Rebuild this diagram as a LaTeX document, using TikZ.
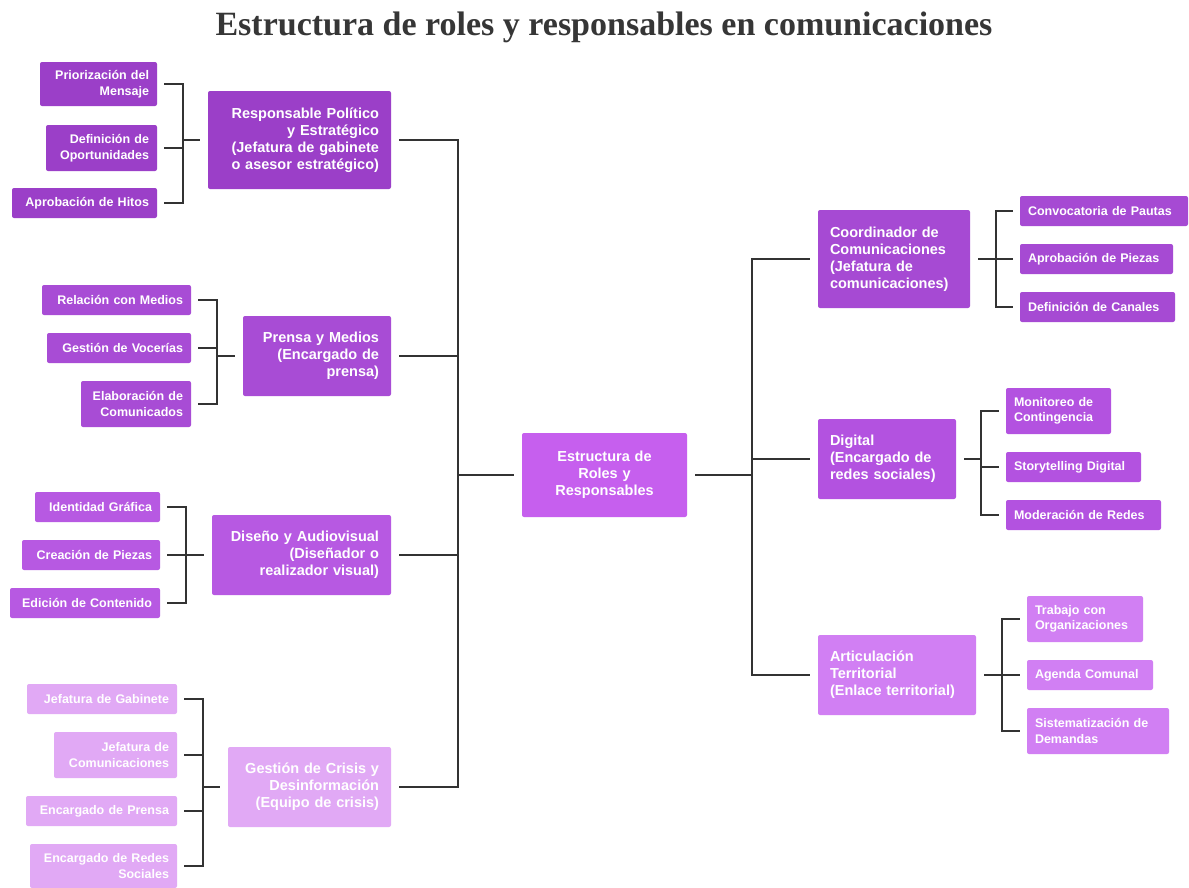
\documentclass[tikz,border=0pt]{standalone}
\usepackage{fontspec}
\setmainfont{Liberation Sans}
\newfontfamily\titlefont{Liberation Serif}
\definecolor{cA}{HTML}{9B3FC8}
\definecolor{cB}{HTML}{A84CD5}
\definecolor{cC}{HTML}{B759E2}
\definecolor{cD}{HTML}{E1A9F5}
\definecolor{cE}{HTML}{A64AD3}
\definecolor{cF}{HTML}{B352E0}
\definecolor{cG}{HTML}{D17FF3}
\definecolor{cCenter}{HTML}{C65FEE}
\definecolor{linegray}{HTML}{333333}
\definecolor{titlegray}{HTML}{363636}
\begin{document}
\begin{tikzpicture}[x=1pt,y=1pt,
  box/.style={rounded corners=2pt, text=white, inner ysep=2pt},
  leaf/.style={box, inner xsep=8pt, font=\fontsize{12.5}{15.5}\selectfont\bfseries},
  parent/.style={box, inner xsep=12pt, font=\fontsize{14.5}{17}\selectfont\bfseries},
  conn/.style={draw=linegray, line width=2pt}
]
\useasboundingbox[fill=white] (0,0) rectangle (1189,-887);

\node[font=\titlefont\fontsize{34}{40}\selectfont\bfseries, text=titlegray, anchor=base] (title) at (604,-35) {Estructura de roles y responsables en comunicaciones};

% center
\node[parent, fill=cCenter, text width=141pt, minimum height=84pt, align=center] (center) at (604.5,-475) {Estructura de\\Roles y\\Responsables};

% left group 1
\node[leaf, fill=cA, text width=101pt, minimum height=44pt, align=right] (l11) at (98.5,-84) {Priorización del\\Mensaje};
\node[leaf, fill=cA, text width=95pt, minimum height=46pt, align=right] (l12) at (101.5,-148) {Definición de\\Oportunidades};
\node[leaf, fill=cA, text width=129pt, minimum height=30pt, align=right] (l13) at (84.5,-203) {Aprobación de Hitos};
\node[parent, fill=cA, text width=159pt, minimum height=98pt, align=right] (p1) at (299.5,-140) {Responsable Político\\y Estratégico\\(Jefatura de gabinete\\o asesor estratégico)};

% left group 2
\node[leaf, fill=cB, text width=133pt, minimum height=30pt, align=right] (l21) at (116.5,-300) {Relación con Medios};
\node[leaf, fill=cB, text width=128pt, minimum height=30pt, align=right] (l22) at (119,-348) {Gestión de Vocerías};
\node[leaf, fill=cB, text width=94pt, minimum height=46pt, align=right] (l23) at (136,-404) {Elaboración de\\Comunicados};
\node[parent, fill=cB, text width=124pt, minimum height=80pt, align=right] (p2) at (317,-356) {Prensa y Medios\\(Encargado de\\prensa)};

% left group 3
\node[leaf, fill=cC, text width=109pt, minimum height=30pt, align=right] (l31) at (97.5,-507) {Identidad Gráfica};
\node[leaf, fill=cC, text width=122pt, minimum height=30pt, align=right] (l32) at (91,-555) {Creación de Piezas};
\node[leaf, fill=cC, text width=134pt, minimum height=30pt, align=right] (l33) at (85,-603) {Edición de Contenido};
\node[parent, fill=cC, text width=155pt, minimum height=80pt, align=right] (p3) at (301.5,-555) {Diseño y Audiovisual\\(Diseñador o\\realizador visual)};

% left group 4
\node[leaf, fill=cD, text width=134pt, minimum height=30pt, align=right] (l41) at (102,-699) {Jefatura de Gabinete};
\node[leaf, fill=cD, text width=107pt, minimum height=46pt, align=right] (l42) at (115.5,-755) {Jefatura de\\Comunicaciones};
\node[leaf, fill=cD, text width=135pt, minimum height=30pt, align=right] (l43) at (101.5,-811) {Encargado de Prensa};
\node[leaf, fill=cD, text width=131pt, minimum height=44pt, align=right] (l44) at (103.5,-866) {Encargado de Redes\\Sociales};
\node[parent, fill=cD, text width=139pt, minimum height=80pt, align=right] (p4) at (309.5,-787) {Gestión de Crisis y\\Desinformación\\(Equipo de crisis)};

% right parents
\node[parent, fill=cE, text width=128pt, minimum height=98pt, align=left] (q1) at (894,-259) {Coordinador de\\Comunicaciones\\(Jefatura de\\comunicaciones)};
\node[parent, fill=cF, text width=114pt, minimum height=80pt, align=left] (q2) at (887,-459) {Digital\\(Encargado de\\redes sociales)};
\node[parent, fill=cG, text width=134pt, minimum height=80pt, align=left] (q3) at (897,-675) {Articulación\\Territorial\\(Enlace territorial)};

% right group 1
\node[leaf, fill=cE, text width=152pt, minimum height=30pt, align=left] (m11) at (1104,-211) {Convocatoria de Pautas};
\node[leaf, fill=cE, text width=137pt, minimum height=30pt, align=left] (m12) at (1096.5,-259) {Aprobación de Piezas};
\node[leaf, fill=cE, text width=139pt, minimum height=30pt, align=left] (m13) at (1097.5,-307) {Definición de Canales};

% right group 2
\node[leaf, fill=cF, text width=89pt, minimum height=46pt, align=left] (m21) at (1058.5,-411) {Monitoreo de\\Contingencia};
\node[leaf, fill=cF, text width=119pt, minimum height=30pt, align=left] (m22) at (1073.5,-467) {Storytelling Digital};
\node[leaf, fill=cF, text width=139pt, minimum height=30pt, align=left] (m23) at (1083.5,-515) {Moderación de Redes};

% right group 3
\node[leaf, fill=cG, text width=100pt, minimum height=46pt, align=left] (m31) at (1085,-619) {Trabajo con\\Organizaciones};
\node[leaf, fill=cG, text width=110pt, minimum height=30pt, align=left] (m32) at (1090,-675) {Agenda Comunal};
\node[leaf, fill=cG, text width=126pt, minimum height=46pt, align=left] (m33) at (1098,-731) {Sistematización de\\Demandas};

% junction coordinates
\coordinate (s1) at (183,-140);
\coordinate (s2) at (217,-356);
\coordinate (s3) at (186,-555);
\coordinate (s4) at (203,-787);
\coordinate (tL) at (458,-475);
\coordinate (tR) at (752,-475);
\coordinate (r1) at (996,-259);
\coordinate (r2) at (981,-459);
\coordinate (r3) at (1002,-675);

% left brackets
\foreach \n in {l11,l12,l13} \draw[conn] ([xshift=7pt]\n.east) -| (s1);
\draw[conn] (s1) -- ([xshift=-8pt]p1.west);
\foreach \n in {l21,l22,l23} \draw[conn] ([xshift=7pt]\n.east) -| (s2);
\draw[conn] (s2) -- ([xshift=-8pt]p2.west);
\foreach \n in {l31,l32,l33} \draw[conn] ([xshift=7pt]\n.east) -| (s3);
\draw[conn] (s3) -- ([xshift=-8pt]p3.west);
\foreach \n in {l41,l42,l43,l44} \draw[conn] ([xshift=7pt]\n.east) -| (s4);
\draw[conn] (s4) -- ([xshift=-8pt]p4.west);

% trunks
\foreach \n in {p1,p2,p3,p4} \draw[conn] ([xshift=8pt]\n.east) -| (tL);
\draw[conn] (tL) -- ([xshift=-8pt]center.west);
\draw[conn] ([xshift=8pt]center.east) -- (tR);
\foreach \n in {q1,q2,q3} \draw[conn] ([xshift=-8pt]\n.west) -| (tR);

% right brackets
\draw[conn] ([xshift=8pt]q1.east) -- (r1);
\foreach \n in {m11,m12,m13} \draw[conn] ([xshift=-7pt]\n.west) -| (r1);
\draw[conn] ([xshift=8pt]q2.east) -- (r2);
\foreach \n in {m21,m22,m23} \draw[conn] ([xshift=-7pt]\n.west) -| (r2);
\draw[conn] ([xshift=8pt]q3.east) -- (r3);
\foreach \n in {m31,m32,m33} \draw[conn] ([xshift=-7pt]\n.west) -| (r3);
\end{tikzpicture}
\end{document}
